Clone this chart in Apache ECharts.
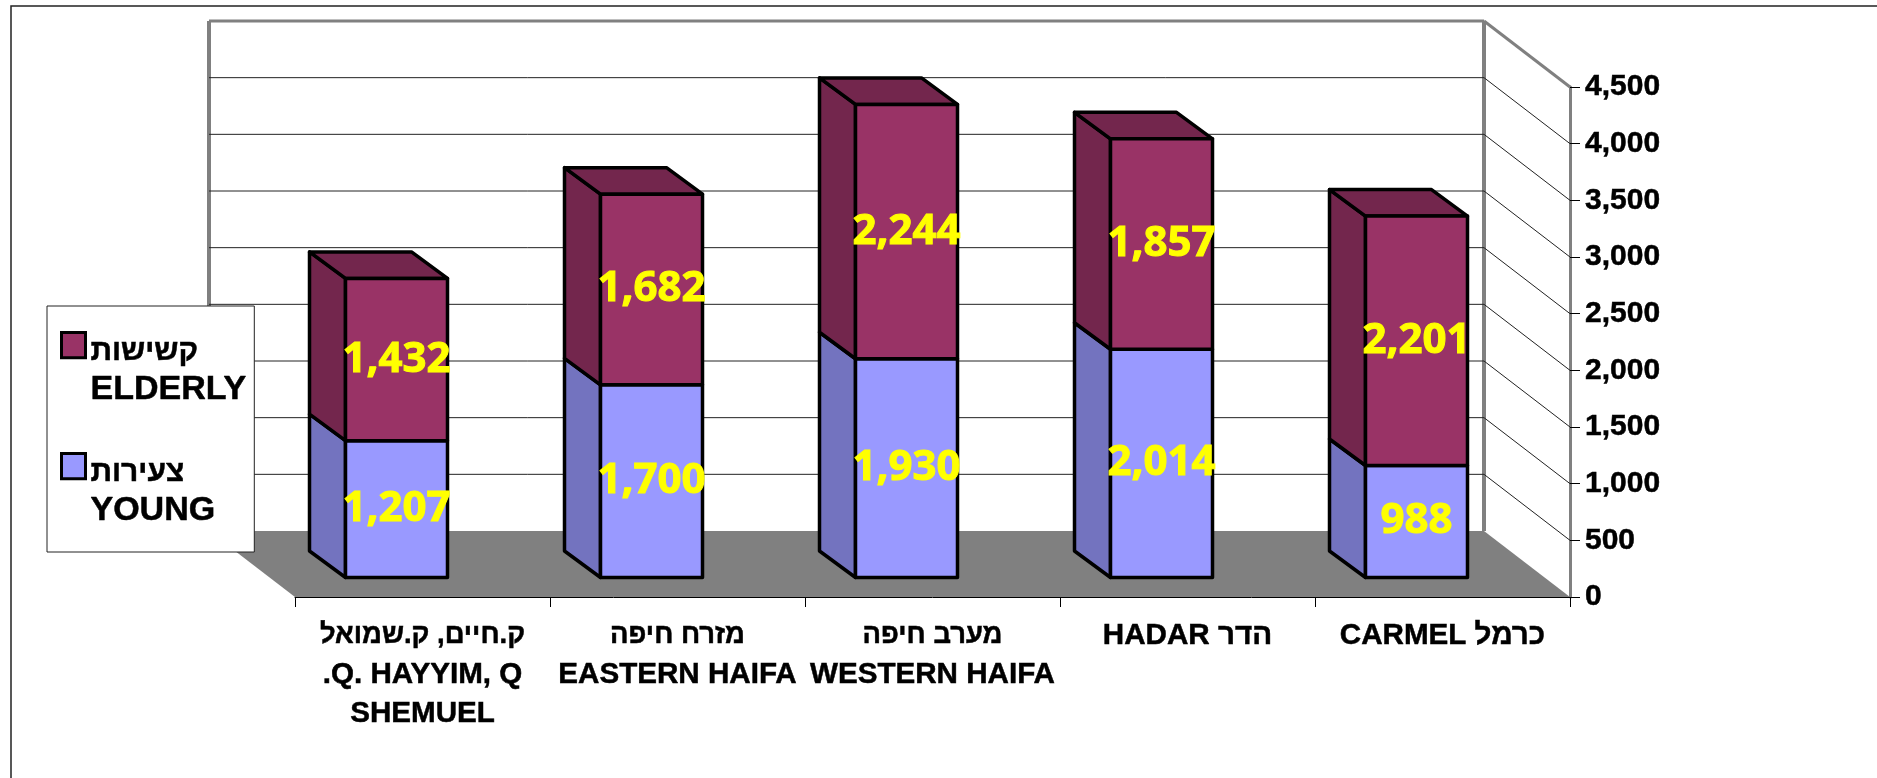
<!DOCTYPE html>
<html>
<head>
<meta charset="utf-8">
<style>html,body{margin:0;padding:0;background:#fff}#c{width:1877px;height:778px}</style>
<script src="https://cdn.jsdelivr.net/npm/echarts@6/dist/echarts.min.js"></script>
</head>
<body>
<div id="c"></div>
<script>
const categories = ['ק.חיים, ק.שמואל\n.Q. HAYYIM, Q\nSHEMUEL', 'מזרח חיפה\nEASTERN HAIFA', 'מערב חיפה\nWESTERN HAIFA', 'HADAR הדר', 'CARMEL כרמל'];
const young = [1207, 1700, 1930, 2014, 988];
const elderly = [1432, 1682, 2244, 1857, 2201];
const yTicks = [0, 500, 1000, 1500, 2000, 2500, 3000, 3500, 4000, 4500];
const youngName = 'צעירות\nYOUNG';
const elderlyName = 'קשישות\nELDERLY';

const WALL_DX = 86, WALL_DY = 66;
const BAR_SHIFT_X = 26, BAR_SHIFT_Y = 19.5, BAR_DX = 36, BAR_DY = 26.5;
const FONT = '"Liberation Sans", Arial, sans-serif';
const fmt = v => Number(v).toLocaleString('en-US');
const richLines = s => s.split('\n').map(l => (/^[\u0590-\u05FF.,\s]+$/.test(l) ? '{he|' : '{en|') + l + '}').join('\n');
const richStyle = (size, lh) => ({ fontFamily: FONT, fontWeight: 'bold', fontSize: size, lineHeight: lh, color: '#000', textBorderColor: '#000', textBorderWidth: 0.5 });

function frameItem(params, api) {
  const cs = params.coordSys, v = api.value(1);
  const xL = cs.x, xR = cs.x + cs.width;
  const y = api.coord([0, v])[1];
  const kids = [];
  const line = (x1, y1, x2, y2, stroke, w) => ({
    type: 'line', shape: { x1, y1, x2, y2 }, style: { stroke, lineWidth: w }
  });
  if (v === 0) {
    kids.push({ type: 'polygon', shape: { points: [[xL - WALL_DX, y - WALL_DY], [xR - WALL_DX, y - WALL_DY], [xR, y], [xL, y]] }, style: { fill: '#808080' } });
    const topY = cs.y - WALL_DY;
    kids.push(line(xL - WALL_DX, topY, xL - WALL_DX, y - WALL_DY, '#808080', 4));
    kids.push(line(xR - WALL_DX, topY, xR - WALL_DX, y - WALL_DY, '#808080', 4));
  } else if (v === yTicks[yTicks.length - 1]) {
    kids.push(line(xL - WALL_DX, y - WALL_DY, xR - WALL_DX, y - WALL_DY, '#808080', 3));
    kids.push(line(xR - WALL_DX, y - WALL_DY, xR, y, '#808080', 3));
  } else {
    kids.push(line(xL - WALL_DX, y - WALL_DY, xR - WALL_DX, y - WALL_DY, '#222', 1));
    kids.push(line(xR - WALL_DX, y - WALL_DY, xR, y, '#222', 1));
  }
  return { type: 'group', children: kids };
}

function barItem(front, shade, withTop) {
  return function (params, api) {
    const i = api.value(0);
    const w = api.size([1, 0])[0] * 0.4;
    const cx = api.coord([i, 0])[0] - BAR_SHIFT_X;
    const y0 = api.coord([i, api.value(1)])[1] - BAR_SHIFT_Y;
    const y1 = api.coord([i, api.value(2)])[1] - BAR_SHIFT_Y;
    const x0 = cx - w / 2, x1 = cx + w / 2;
    const stroke = { stroke: '#000', lineWidth: 3.5, lineJoin: 'round' };
    const kids = [
      { type: 'polygon', shape: { points: [[x0, y0], [x0, y1], [x0 - BAR_DX, y1 - BAR_DY], [x0 - BAR_DX, y0 - BAR_DY]] }, style: { fill: shade, ...stroke } }
    ];
    if (withTop) {
      kids.push({ type: 'polygon', shape: { points: [[x0, y1], [x1, y1], [x1 - BAR_DX, y1 - BAR_DY], [x0 - BAR_DX, y1 - BAR_DY]] }, style: { fill: shade, ...stroke } });
    }
    kids.push({ type: 'rect', shape: { x: x0, y: y1, width: w, height: y0 - y1 }, style: { fill: front, ...stroke } });
    kids.push({
      type: 'text', z2: 10,
      style: { x: cx, y: (y0 + y1) / 2, text: fmt(api.value(3)), fill: '#FFFF00', stroke: '#FFFF00', lineWidth: 1, font: 'bold 42px "Open Sans", "Noto Sans", sans-serif', align: 'center', verticalAlign: 'middle' }
    });
    return { type: 'group', children: kids };
  };
}

const chart = echarts.init(document.getElementById('c'), null, { renderer: 'canvas' });
chart.setOption({
  animation: false,
  backgroundColor: '#fff',
  graphic: [{
    type: 'polyline', silent: true, z: -1,
    shape: { points: [[11, 778], [11, 6], [1877, 6]] },
    style: { fill: null, stroke: '#222', lineWidth: 1.5 }
  }],
  grid: { left: 295, right: 307, top: 87, bottom: 181, containLabel: false },
  legend: {
    left: 47, top: 306, orient: 'vertical',
    data: [elderlyName, youngName],
    backgroundColor: '#fff', borderColor: '#222', borderWidth: 1,
    padding: [25, 8, 21, 13],
    itemWidth: 24, itemHeight: 76, itemGap: 42,
    symbolKeepAspect: false,
    selectedMode: false,
    icon: 'path://M0 10H24V32H0Z M24 76',
    itemStyle: { borderColor: '#000', borderWidth: 3 },
    formatter: richLines,
    textStyle: { color: '#000', rich: { he: richStyle(30, 38), en: richStyle(34, 38) } },
    z: 20
  },
  xAxis: {
    type: 'category', data: categories,
    axisLine: { lineStyle: { color: '#000', width: 1 } },
    axisTick: { show: true, length: 10, alignWithLabel: false, lineStyle: { color: '#000' } },
    axisLabel: { interval: 0, margin: 19, color: '#000', hideOverlap: false, formatter: richLines,
      rich: { he: richStyle(27.4, 39), en: richStyle(29.6, 39) } }
  },
  yAxis: {
    type: 'value', position: 'right', min: 0, max: 4500, interval: 500,
    splitLine: { show: false },
    axisLine: { show: true, lineStyle: { color: '#808080', width: 3 } },
    axisTick: { show: true, length: 10, lineStyle: { color: '#000' } },
    axisLabel: { margin: 15, fontFamily: FONT, fontWeight: 'bold', fontSize: 30, color: '#000', formatter: fmt, textBorderColor: '#000', textBorderWidth: 0.5 }
  },
  series: [
    { type: 'custom', name: 'frame', silent: true, z: 1, clip: false,
      coordinateSystem: 'cartesian2d', renderItem: frameItem,
      encode: { x: 0, y: 1 }, data: yTicks.map(v => [0, v]) },
    { type: 'custom', name: youngName, z: 2, clip: false,
      itemStyle: { color: '#9999FF' },
      coordinateSystem: 'cartesian2d', renderItem: barItem('#9999FF', '#7373BF', false),
      encode: { x: 0, y: 2 }, data: young.map((v, i) => [i, 0, v, v]) },
    { type: 'custom', name: elderlyName, z: 3, clip: false,
      itemStyle: { color: '#993366' },
      coordinateSystem: 'cartesian2d', renderItem: barItem('#993366', '#73264D', true),
      encode: { x: 0, y: 2 }, data: elderly.map((v, i) => [i, young[i], young[i] + v, v]) }
  ]
});
</script>
</body>
</html>
